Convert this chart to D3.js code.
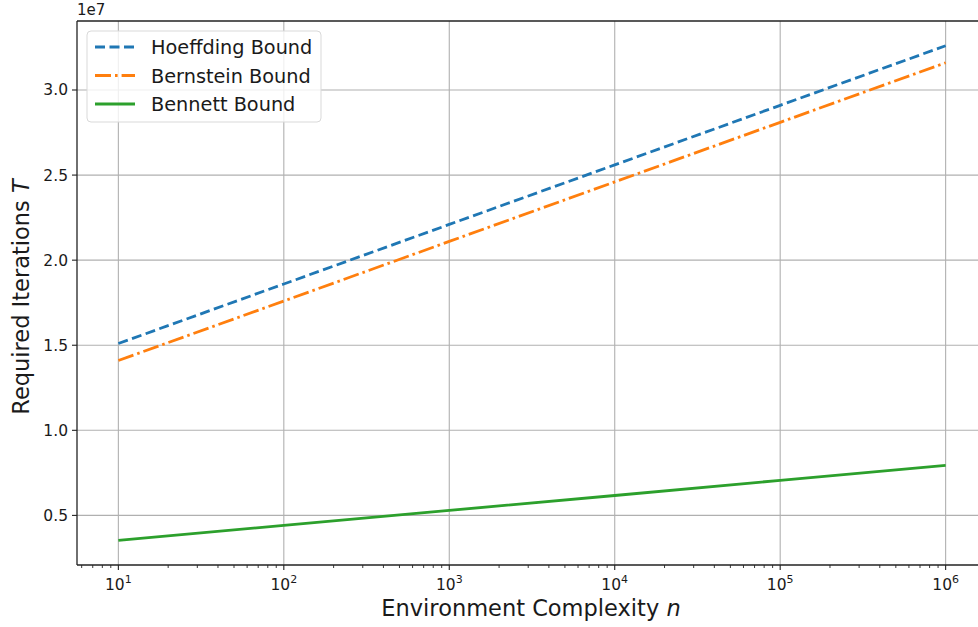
<!DOCTYPE html>
<html><head><meta charset="utf-8">
<script src="https://cdn.jsdelivr.net/npm/d3@7"></script>
<style>body{margin:0;background:#fff;} svg{display:block;font-family:"DejaVu Sans",sans-serif;}</style>
</head><body><div id="chart"></div>
<script>
const nValues = [1e1, 1e2, 1e3, 1e4, 1e5, 1e6];
const hoeffding = [1.51e7, 1.86e7, 2.21e7, 2.56e7, 2.91e7, 3.26e7];
const bernstein = [1.41e7, 1.76e7, 2.11e7, 2.46e7, 2.81e7, 3.16e7];
const bennett = [0.353e7, 0.441e7, 0.529e7, 0.617e7, 0.706e7, 0.794e7];
const seriesNames = ["Hoeffding Bound", "Bernstein Bound", "Bennett Bound"];
const yTicks = [0.5e7, 1.0e7, 1.5e7, 2.0e7, 2.5e7, 3.0e7];
const xTicks = [1e1, 1e2, 1e3, 1e4, 1e5, 1e6];

const W = 978, H = 627;
const L = 77, R = 987, T = 21, B = 565;
const svg = d3.select("#chart").append("svg").attr("width", W).attr("height", H);

const x = d3.scaleLog().domain([Math.pow(10, 0.75), Math.pow(10, 6.25)]).range([L, R]);
const y = d3.scaleLinear().domain([0.2085e7, 3.4055e7]).range([B, T]);

// grid
const g = svg.append("g");
g.selectAll(".vg").data(xTicks).enter().append("line")
  .attr("x1", d => x(d)).attr("x2", d => x(d)).attr("y1", T).attr("y2", B)
  .attr("stroke", "#b0b0b0").attr("stroke-width", 1.1);
g.selectAll(".hg").data(yTicks).enter().append("line")
  .attr("x1", L).attr("x2", R).attr("y1", d => y(d)).attr("y2", d => y(d))
  .attr("stroke", "#b0b0b0").attr("stroke-width", 1.1);

// lines
const data = [hoeffding, bernstein, bennett];
const colors = ["#1f77b4", "#ff7f0e", "#2ca02c"];
const dashes = ["10,4.5", "16,4,2.6,4", null];
const line = d3.line().x((d, i) => x(nValues[i])).y(d => y(d));
data.forEach((s, k) => {
  svg.append("path").datum(s).attr("d", line).attr("fill", "none")
    .attr("stroke", colors[k]).attr("stroke-width", 2.8)
    .attr("stroke-dasharray", dashes[k]);
});

// spines
svg.append("line").attr("x1", L).attr("x2", L).attr("y1", T).attr("y2", B).attr("stroke", "#222").attr("stroke-width", 1.3);
svg.append("line").attr("x1", L).attr("x2", R).attr("y1", B).attr("y2", B).attr("stroke", "#222").attr("stroke-width", 1.3);
svg.append("line").attr("x1", L).attr("x2", R).attr("y1", T).attr("y2", T).attr("stroke", "#222").attr("stroke-width", 1.3);

// x axis ticks
const xAxis = svg.append("g");
xTicks.forEach(t => {
  const px = x(t);
  xAxis.append("line").attr("x1", px).attr("x2", px).attr("y1", B).attr("y2", B + 5).attr("stroke", "#222").attr("stroke-width", 1.1);
  const e = Math.round(Math.log10(t));
  const tx = xAxis.append("text").attr("x", px).attr("y", B + 25).attr("text-anchor", "middle")
    .attr("font-size", 15.5).attr("fill", "#1a1a1a");
  tx.append("tspan").text("10");
  tx.append("tspan").attr("dy", -7).attr("font-size", 11).text(e);
});
// minor ticks
const minor = [];
for (let e = 0; e <= 6; e++) for (let m = 2; m <= 9; m++) {
  const v = m * Math.pow(10, e);
  if (x(v) >= L && x(v) <= W) minor.push(v);
}
xAxis.selectAll(".mt").data(minor).enter().append("line")
  .attr("x1", d => x(d)).attr("x2", d => x(d)).attr("y1", B).attr("y2", B + 3)
  .attr("stroke", "#222").attr("stroke-width", 0.9);

// y axis ticks
yTicks.forEach(t => {
  const py = y(t);
  svg.append("line").attr("x1", L - 5).attr("x2", L).attr("y1", py).attr("y2", py).attr("stroke", "#222").attr("stroke-width", 1.1);
  svg.append("text").attr("x", L - 9).attr("y", py + 5.5).attr("text-anchor", "end")
    .attr("font-size", 15.5).attr("fill", "#1a1a1a").text((t / 1e7).toFixed(1));
});
svg.append("text").attr("x", L).attr("y", T - 6).attr("font-size", 15).attr("fill", "#1a1a1a").text("1e7");

// axis labels
const xl = svg.append("text").attr("x", 531).attr("y", 616).attr("text-anchor", "middle").attr("font-size", 22.5).attr("fill", "#1a1a1a");
xl.append("tspan").text("Environment Complexity ");
xl.append("tspan").attr("font-style", "italic").text("n");
const yl = svg.append("text").attr("transform", "translate(29,297) rotate(-90)").attr("text-anchor", "middle").attr("font-size", 22.5).attr("fill", "#1a1a1a");
yl.append("tspan").text("Required Iterations ");
yl.append("tspan").attr("font-style", "italic").text("T");

// legend
const lg = svg.append("g");
lg.append("rect").attr("x", 87).attr("y", 31).attr("width", 234).attr("height", 91).attr("rx", 4)
  .attr("fill", "#fff").attr("fill-opacity", 0.8).attr("stroke", "#d9d9d9").attr("stroke-width", 1);
seriesNames.forEach((nm, k) => {
  const ly = 47 + k * 28.5;
  lg.append("line").attr("x1", 95).attr("x2", 135).attr("y1", ly).attr("y2", ly)
    .attr("stroke", colors[k]).attr("stroke-width", 2.8).attr("stroke-dasharray", dashes[k]);
  lg.append("text").attr("x", 151).attr("y", ly + 7).attr("font-size", 19.3).attr("fill", "#1a1a1a").text(nm);
});
</script></body></html>
